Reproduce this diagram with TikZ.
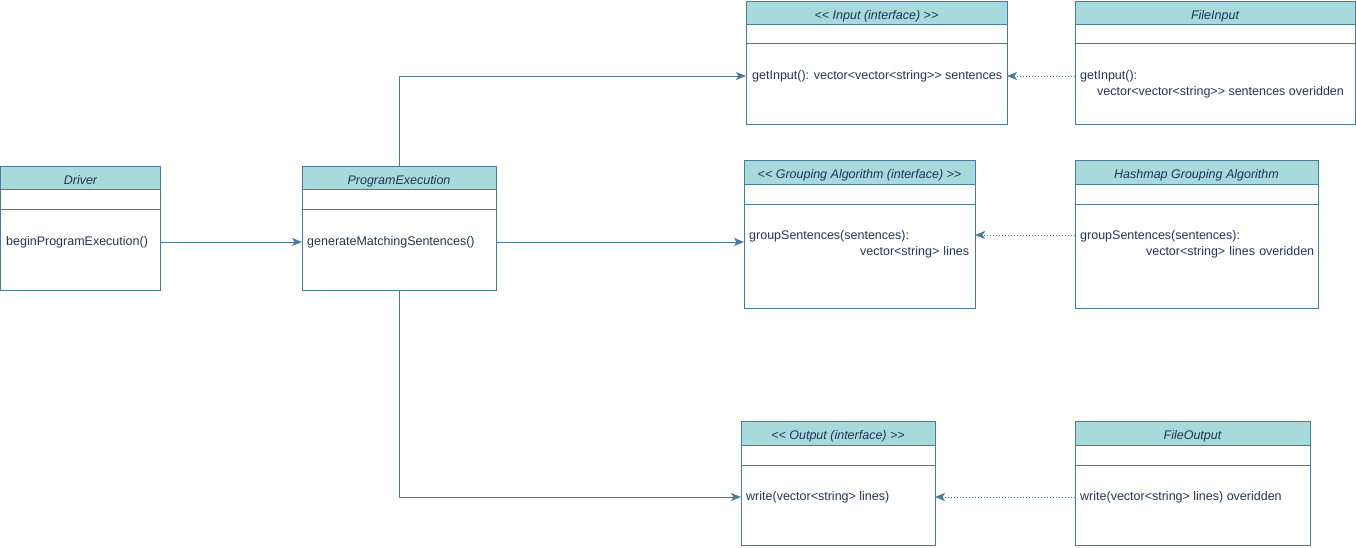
\documentclass[tikz,border=0pt]{standalone}
\usepackage{fontspec}
\setmainfont{Liberation Sans}[Ligatures=TeXOff]
\usetikzlibrary{positioning, arrows.meta}
\definecolor{umlfill}{HTML}{A8DADC}
\definecolor{umlline}{HTML}{457B9D}
\definecolor{umltext}{HTML}{1D3557}

\begin{document}
\begin{tikzpicture}[
		x=1pt, y=-1pt,
		every node/.style={font=\fontsize{12.5}{16}\selectfont, text=umltext},
		part/.style={draw=umlline, line width=1pt, rectangle, inner sep=0pt, outer sep=0pt},
		head/.style={part, fill=umlfill, anchor=north west, minimum width=#1, minimum height=23pt, text height=13pt, text depth=0pt, font=\fontsize{12.5}{16}\selectfont\itshape},
		op/.style={anchor=west, inner sep=0pt, align=left},
		assoc/.style={draw=umlline, line width=1pt, -{Stealth[length=10pt, width=8pt, inset=2.5pt]}},
		impl/.style={assoc, dash pattern=on 1pt off 2pt}
		]
		\useasboundingbox (0,0) rectangle (1356,547);
		
		% Driver and ProgramExecution
		\node[head=160pt] (drvH) at (0.5,166) {Driver};
		\node[part, minimum width=160pt, minimum height=20pt, below=0pt of drvH] (drvA) {};
		\node[part, minimum width=160pt, minimum height=81pt, below=0pt of drvA] (drvM) {};
		\node[op] (drvOp) at (6,242) {beginProgramExecution()};
		
		\node[head=194pt] (peH) at (302,166) {ProgramExecution};
		\node[part, minimum width=194pt, minimum height=20pt, below=0pt of peH] (peA) {};
		\node[part, minimum width=194pt, minimum height=81pt, below=0pt of peA] (peM) {};
		\node[op] (peOp) at (307,242) {generateMatchingSentences()};
		
		% Input
		\node[head=261pt] (inH) at (746,1) {<< Input (interface) >>};
		\node[part, minimum width=261pt, minimum height=19pt, below=0pt of inH] (inA) {};
		\node[part, minimum width=261pt, minimum height=81pt, below=0pt of inA] (inM) {};
		\node[op] (inOp) at (752,76) {getInput(): vector<vector<string>> sentences};
		
		\node[head=280pt] (fiH) at (1075,1) {FileInput};
		\node[part, minimum width=280pt, minimum height=19pt, below=0pt of fiH] (fiA) {};
		\node[part, minimum width=280pt, minimum height=81pt, below=0pt of fiA] (fiM) {};
		\node[op] (fiOp) at (1080,84) {getInput():\\\hspace*{17pt}vector<vector<string>> sentences overidden};
		
		% Grouping
		\node[head=231pt, minimum height=24pt] (grpH) at (744,160) {<< Grouping Algorithm (interface) >>};
		\node[part, minimum width=231pt, minimum height=20pt, below=0pt of grpH] (grpA) {};
		\node[part, minimum width=231pt, minimum height=104pt, below=0pt of grpA] (grpM) {};
		\node[op, text width=220pt] (grpOp) at (749,244) {groupSentences(sentences):\\\hspace*{\fill}vector<string> lines};
		
		\node[head=243pt, minimum height=24pt] (hshH) at (1075,160) {Hashmap Grouping Algorithm};
		\node[part, minimum width=243pt, minimum height=20pt, below=0pt of hshH] (hshA) {};
		\node[part, minimum width=243pt, minimum height=104pt, below=0pt of hshA] (hshM) {};
		\node[op, text width=234pt] (hshOp) at (1080,244) {groupSentences(sentences):\\\hspace*{\fill}vector<string> lines overidden};
		
		% Output
		\node[head=194pt, minimum height=24pt] (outH) at (741,421) {<< Output (interface) >>};
		\node[part, minimum width=194pt, minimum height=20pt, below=0pt of outH] (outA) {};
		\node[part, minimum width=194pt, minimum height=80pt, below=0pt of outA] (outM) {};
		\node[op] (outOp) at (746,497) {write(vector<string> lines)};
		
		\node[head=235pt, minimum height=24pt] (fouH) at (1075,421) {FileOutput};
		\node[part, minimum width=235pt, minimum height=20pt, below=0pt of fouH] (fouA) {};
		\node[part, minimum width=235pt, minimum height=80pt, below=0pt of fouA] (fouM) {};
		\node[op] (fouOp) at (1080,497) {write(vector<string> lines) overidden};
		
		% connectors
		\draw[assoc] (drvM.east |- drvOp) -- (peM.west |- drvOp);
		\draw[assoc] (peH.north) |- (inM.west |- inOp);
		\draw[assoc] (peM.east |- peOp) -- (grpM.west |- peOp);
		\draw[assoc] (peM.south) |- (outM.west |- outOp);
		\draw[impl] (fiM.west |- inOp) -- (inM.east |- inOp);
		\draw[impl] ([yshift=9pt]hshM.west |- hshOp) -- ([yshift=9pt]grpM.east |- hshOp);
		\draw[impl] (fouM.west |- fouOp) -- (outM.east |- fouOp);
	\end{tikzpicture}
\end{document}
